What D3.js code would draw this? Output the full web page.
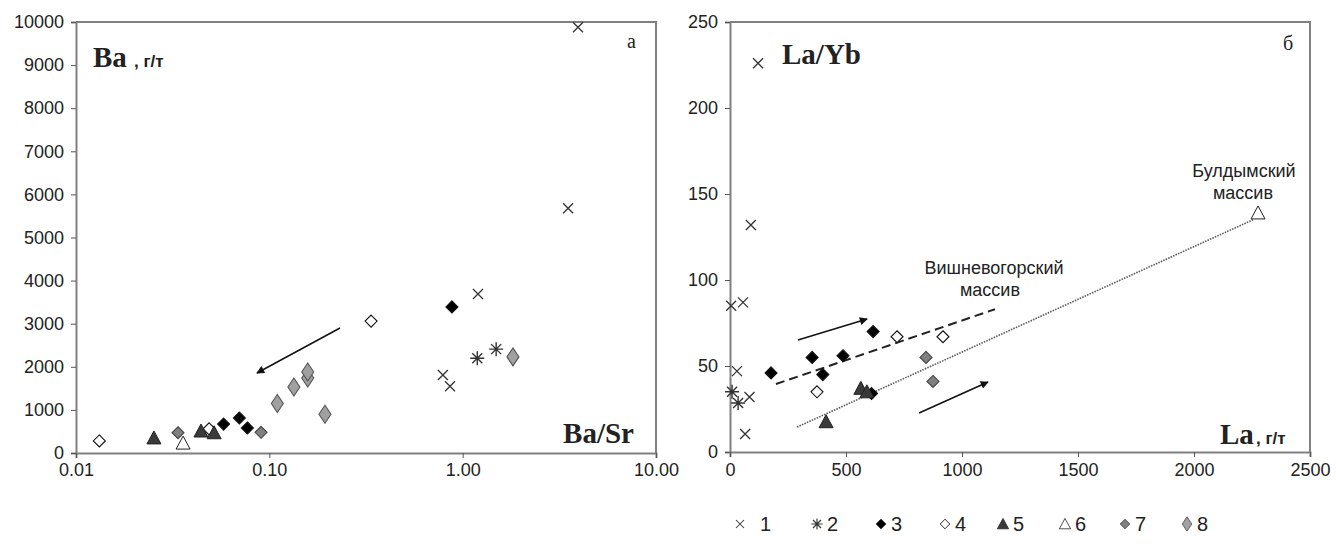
<!DOCTYPE html>
<html>
<head>
<meta charset="utf-8">
<script src="https://cdn.jsdelivr.net/npm/d3@7"></script>
<style>
  body { margin: 0; background: #fff; }
  text { font-family: "Liberation Sans", Arial, sans-serif; fill: #222; }
  .serif { font-family: "Liberation Serif", "Times New Roman", serif; }
</style>
</head>
<body>
<script>
// left panel: Ba/Sr (log) vs Ba, g/t
var leftTicksX = [0.01, 0.1, 1, 10];
var leftTickLabelsX = ["0.01", "0.10", "1.00", "10.00"];
var leftTicksY = [0, 1000, 2000, 3000, 4000, 5000, 6000, 7000, 8000, 9000, 10000];

var left1 = [[3.95, 9880], [3.51, 5680], [1.20, 3690], [0.79, 1810], [0.86, 1550]];
var left2 = [[1.19, 2200], [1.49, 2410]];
var left3 = [[0.88, 3390], [0.058, 670], [0.070, 810], [0.077, 580]];
var left4 = [[0.0132, 280], [0.0488, 560], [0.336, 3060]];
var left5 = [[0.0253, 350], [0.0443, 510], [0.0518, 470]];
var left6 = [[0.0358, 230]];
var left7 = [[0.0337, 470], [0.0906, 480]];
var left8 = [[0.110, 1150], [0.134, 1530], [0.158, 1740], [0.158, 1880], [0.194, 900], [1.82, 2230]];
var leftArrow = [[0.232, 2900], [0.0863, 1856]];

// right panel: La, g/t vs La/Yb
var rightTicksX = [0, 500, 1000, 1500, 2000, 2500];
var rightTicksY = [0, 50, 100, 150, 200, 250];

var right1 = [[121, 226], [90, 132], [5, 85], [56, 87], [30, 47], [84, 32], [65, 10.5]];
var right2 = [[9, 35], [35, 28.5]];
var right3 = [[177, 46], [354, 55], [400, 45], [487, 56], [617, 70], [610, 34]];
var right4 = [[375, 35], [720, 67], [918, 67]];
var right5 = [[414, 17.6], [564, 37], [590, 35]];
var right6 = [[2276, 139]];
var right7 = [[845, 55], [875, 41]];
var vishLine = [[198, 39.5], [1142, 83]];
var buldLine = [[289, 14.5], [2254, 135]];
var rightArrowUp = [[293, 65.1], [591, 77.3]];
var rightArrowLow = [[815, 22.7], [1112, 40.7]];

var legendLabels = ["1", "2", "3", "4", "5", "6", "7", "8"];
var legendSymX = [740, 817, 881, 945, 1003, 1065, 1125, 1187];

var svg = d3.select("body").append("svg")
    .attr("width", 1336)
    .attr("height", 548);

svg.append("defs").append("marker")
    .attr("id", "arrow")
    .attr("viewBox", "0 0 10 10")
    .attr("refX", 9).attr("refY", 5)
    .attr("markerWidth", 10).attr("markerHeight", 8)
    .attr("markerUnits", "userSpaceOnUse")
    .attr("orient", "auto")
    .append("path")
    .attr("d", "M0,0L10,5L0,10z")
    .attr("fill", "#111");

// marker shapes
function shape(g, type, x, y) {
    if (type === 1) {
        g.append("path").attr("d", "M" + (x - 5) + "," + (y - 5) + "L" + (x + 5) + "," + (y + 5) +
            "M" + (x - 5) + "," + (y + 5) + "L" + (x + 5) + "," + (y - 5))
            .attr("stroke", "#333").attr("stroke-width", 1.3).attr("fill", "none");
    } else if (type === 2) {
        g.append("path").attr("d", "M" + (x - 7) + "," + y + "L" + (x + 7) + "," + y +
            "M" + x + "," + (y - 7) + "L" + x + "," + (y + 7) +
            "M" + (x - 5) + "," + (y - 5) + "L" + (x + 5) + "," + (y + 5) +
            "M" + (x - 5) + "," + (y + 5) + "L" + (x + 5) + "," + (y - 5))
            .attr("stroke", "#333").attr("stroke-width", 1.4).attr("fill", "none");
    } else if (type === 3 || type === 4 || type === 7) {
        var fill = type === 3 ? "#000" : type === 4 ? "#fff" : "#808080";
        g.append("path").attr("d", "M" + x + "," + (y - 6) + "L" + (x + 6) + "," + y +
            "L" + x + "," + (y + 6) + "L" + (x - 6) + "," + y + "Z")
            .attr("fill", fill).attr("stroke", type === 7 ? "#444" : "#111").attr("stroke-width", 1.1);
    } else if (type === 5 || type === 6) {
        g.append("path").attr("d", "M" + x + "," + (y - 7) + "L" + (x + 7) + "," + (y + 6) +
            "L" + (x - 7) + "," + (y + 6) + "Z")
            .attr("fill", type === 5 ? "#3a3a3a" : "#fff").attr("stroke", "#222").attr("stroke-width", 1);
    } else if (type === 8) {
        g.append("path").attr("d", "M" + x + "," + (y - 9) + "L" + (x + 6) + "," + y +
            "L" + x + "," + (y + 9) + "L" + (x - 6) + "," + y + "Z")
            .attr("fill", "#a0a0a0").attr("stroke", "#555").attr("stroke-width", 1.1);
    }
}

function frame(x0, x1, y0, y1) {
    svg.append("path")
        .attr("d", "M" + x0 + "," + y1 + "L" + x1 + "," + y1 + "L" + x1 + "," + y0)
        .attr("fill", "none").attr("stroke", "#808080").attr("stroke-width", 2);
}

function styleAxis(a) {
    a.select(".domain").attr("stroke", "#808080").attr("stroke-width", 2);
    a.selectAll(".tick line").attr("stroke", "#555");
    a.selectAll("text").style("font-size", "18px").attr("fill", "#222");
}

// ---------- left panel ----------
var xL = d3.scaleLog().domain([0.01, 10]).range([76, 656]);
var yL = d3.scaleLinear().domain([0, 10000]).range([453, 22]);

frame(76, 656, 453, 22);

var axL = svg.append("g").attr("transform", "translate(76,0)")
    .call(d3.axisLeft(yL).tickValues(leftTicksY).tickSize(5).tickPadding(7).tickFormat(d3.format("d")));
var axLb = svg.append("g").attr("transform", "translate(0,453)")
    .call(d3.axisBottom(xL).tickValues(leftTicksX).tickSize(5).tickPadding(5)
        .tickFormat(function(d, i) { return leftTickLabelsX[i]; }));
styleAxis(axL);
styleAxis(axLb);

var gL = svg.append("g");
[left1, left2, left3, left4, left5, left6, left7, left8].forEach(function(s, k) {
    s.forEach(function(d) { shape(gL, k + 1, xL(d[0]), yL(d[1])); });
});

svg.append("line")
    .attr("x1", xL(leftArrow[0][0])).attr("y1", yL(leftArrow[0][1]))
    .attr("x2", xL(leftArrow[1][0])).attr("y2", yL(leftArrow[1][1]))
    .attr("stroke", "#111").attr("stroke-width", 1.5).attr("marker-end", "url(#arrow)");

svg.append("text").attr("class", "serif").attr("x", 93).attr("y", 67)
    .style("font-size", "29px").style("font-weight", "bold").text("Ba");
svg.append("text").attr("x", 134).attr("y", 67)
    .style("font-size", "17px").style("font-weight", "bold").text(", г/т");
svg.append("text").attr("class", "serif").attr("x", 627).attr("y", 48)
    .style("font-size", "20px").text("а");
svg.append("text").attr("class", "serif").attr("x", 634).attr("y", 443).attr("text-anchor", "end")
    .style("font-size", "29px").style("font-weight", "bold").text("Ba/Sr");

// ---------- right panel ----------
var xR = d3.scaleLinear().domain([0, 2500]).range([730, 1310]);
var yR = d3.scaleLinear().domain([0, 250]).range([452, 22]);

frame(730, 1310, 452, 22);

var axR = svg.append("g").attr("transform", "translate(730,0)")
    .call(d3.axisLeft(yR).tickValues(rightTicksY).tickSize(5).tickPadding(7));
var axRb = svg.append("g").attr("transform", "translate(0,452)")
    .call(d3.axisBottom(xR).tickValues(rightTicksX).tickSize(5).tickPadding(6).tickFormat(d3.format("d")));
styleAxis(axR);
styleAxis(axRb);

var line = d3.line().x(function(d) { return xR(d[0]); }).y(function(d) { return yR(d[1]); });
svg.append("path").attr("d", line(vishLine))
    .attr("fill", "none").attr("stroke", "#222").attr("stroke-width", 2).attr("stroke-dasharray", "9,5");
svg.append("path").attr("d", line(buldLine))
    .attr("fill", "none").attr("stroke", "#555").attr("stroke-width", 1.6).attr("stroke-dasharray", "1.5,1.2");

[rightArrowUp, rightArrowLow].forEach(function(a) {
    svg.append("line")
        .attr("x1", xR(a[0][0])).attr("y1", yR(a[0][1]))
        .attr("x2", xR(a[1][0])).attr("y2", yR(a[1][1]))
        .attr("stroke", "#111").attr("stroke-width", 1.5).attr("marker-end", "url(#arrow)");
});

var gR = svg.append("g");
[right1, right2, right3, right4, right5, right6, right7].forEach(function(s, k) {
    s.forEach(function(d) { shape(gR, k + 1, xR(d[0]), yR(d[1])); });
});

svg.append("text").attr("class", "serif").attr("x", 782).attr("y", 64)
    .style("font-size", "29px").style("font-weight", "bold").text("La/Yb");
svg.append("text").attr("class", "serif").attr("x", 1283).attr("y", 50)
    .style("font-size", "20px").text("б");
svg.append("text").attr("class", "serif").attr("x", 1220).attr("y", 444)
    .style("font-size", "29px").style("font-weight", "bold").text("La");
svg.append("text").attr("x", 1256).attr("y", 444)
    .style("font-size", "17px").style("font-weight", "bold").text(", г/т");

svg.append("text").attr("x", 994).attr("y", 274).attr("text-anchor", "middle")
    .style("font-size", "18px").text("Вишневогорский");
svg.append("text").attr("x", 990).attr("y", 296).attr("text-anchor", "middle")
    .style("font-size", "18px").text("массив");
svg.append("text").attr("x", 1244).attr("y", 177).attr("text-anchor", "middle")
    .style("font-size", "18px").text("Булдымский");
svg.append("text").attr("x", 1243).attr("y", 199).attr("text-anchor", "middle")
    .style("font-size", "18px").text("массив");

// ---------- legend ----------
var gLeg = svg.append("g");
legendLabels.forEach(function(l, k) {
    var cx = legendSymX[k], cy = 524;
    var g = gLeg.append("g").attr("transform", "translate(" + cx + "," + cy + ") scale(0.8)");
    shape(g, k + 1, 0, 0);
    gLeg.append("text").attr("x", cx + (k === 0 ? 20 : 10)).attr("y", cy + 7)
        .style("font-size", "20px").text(l);
});
</script>
</body>
</html>
